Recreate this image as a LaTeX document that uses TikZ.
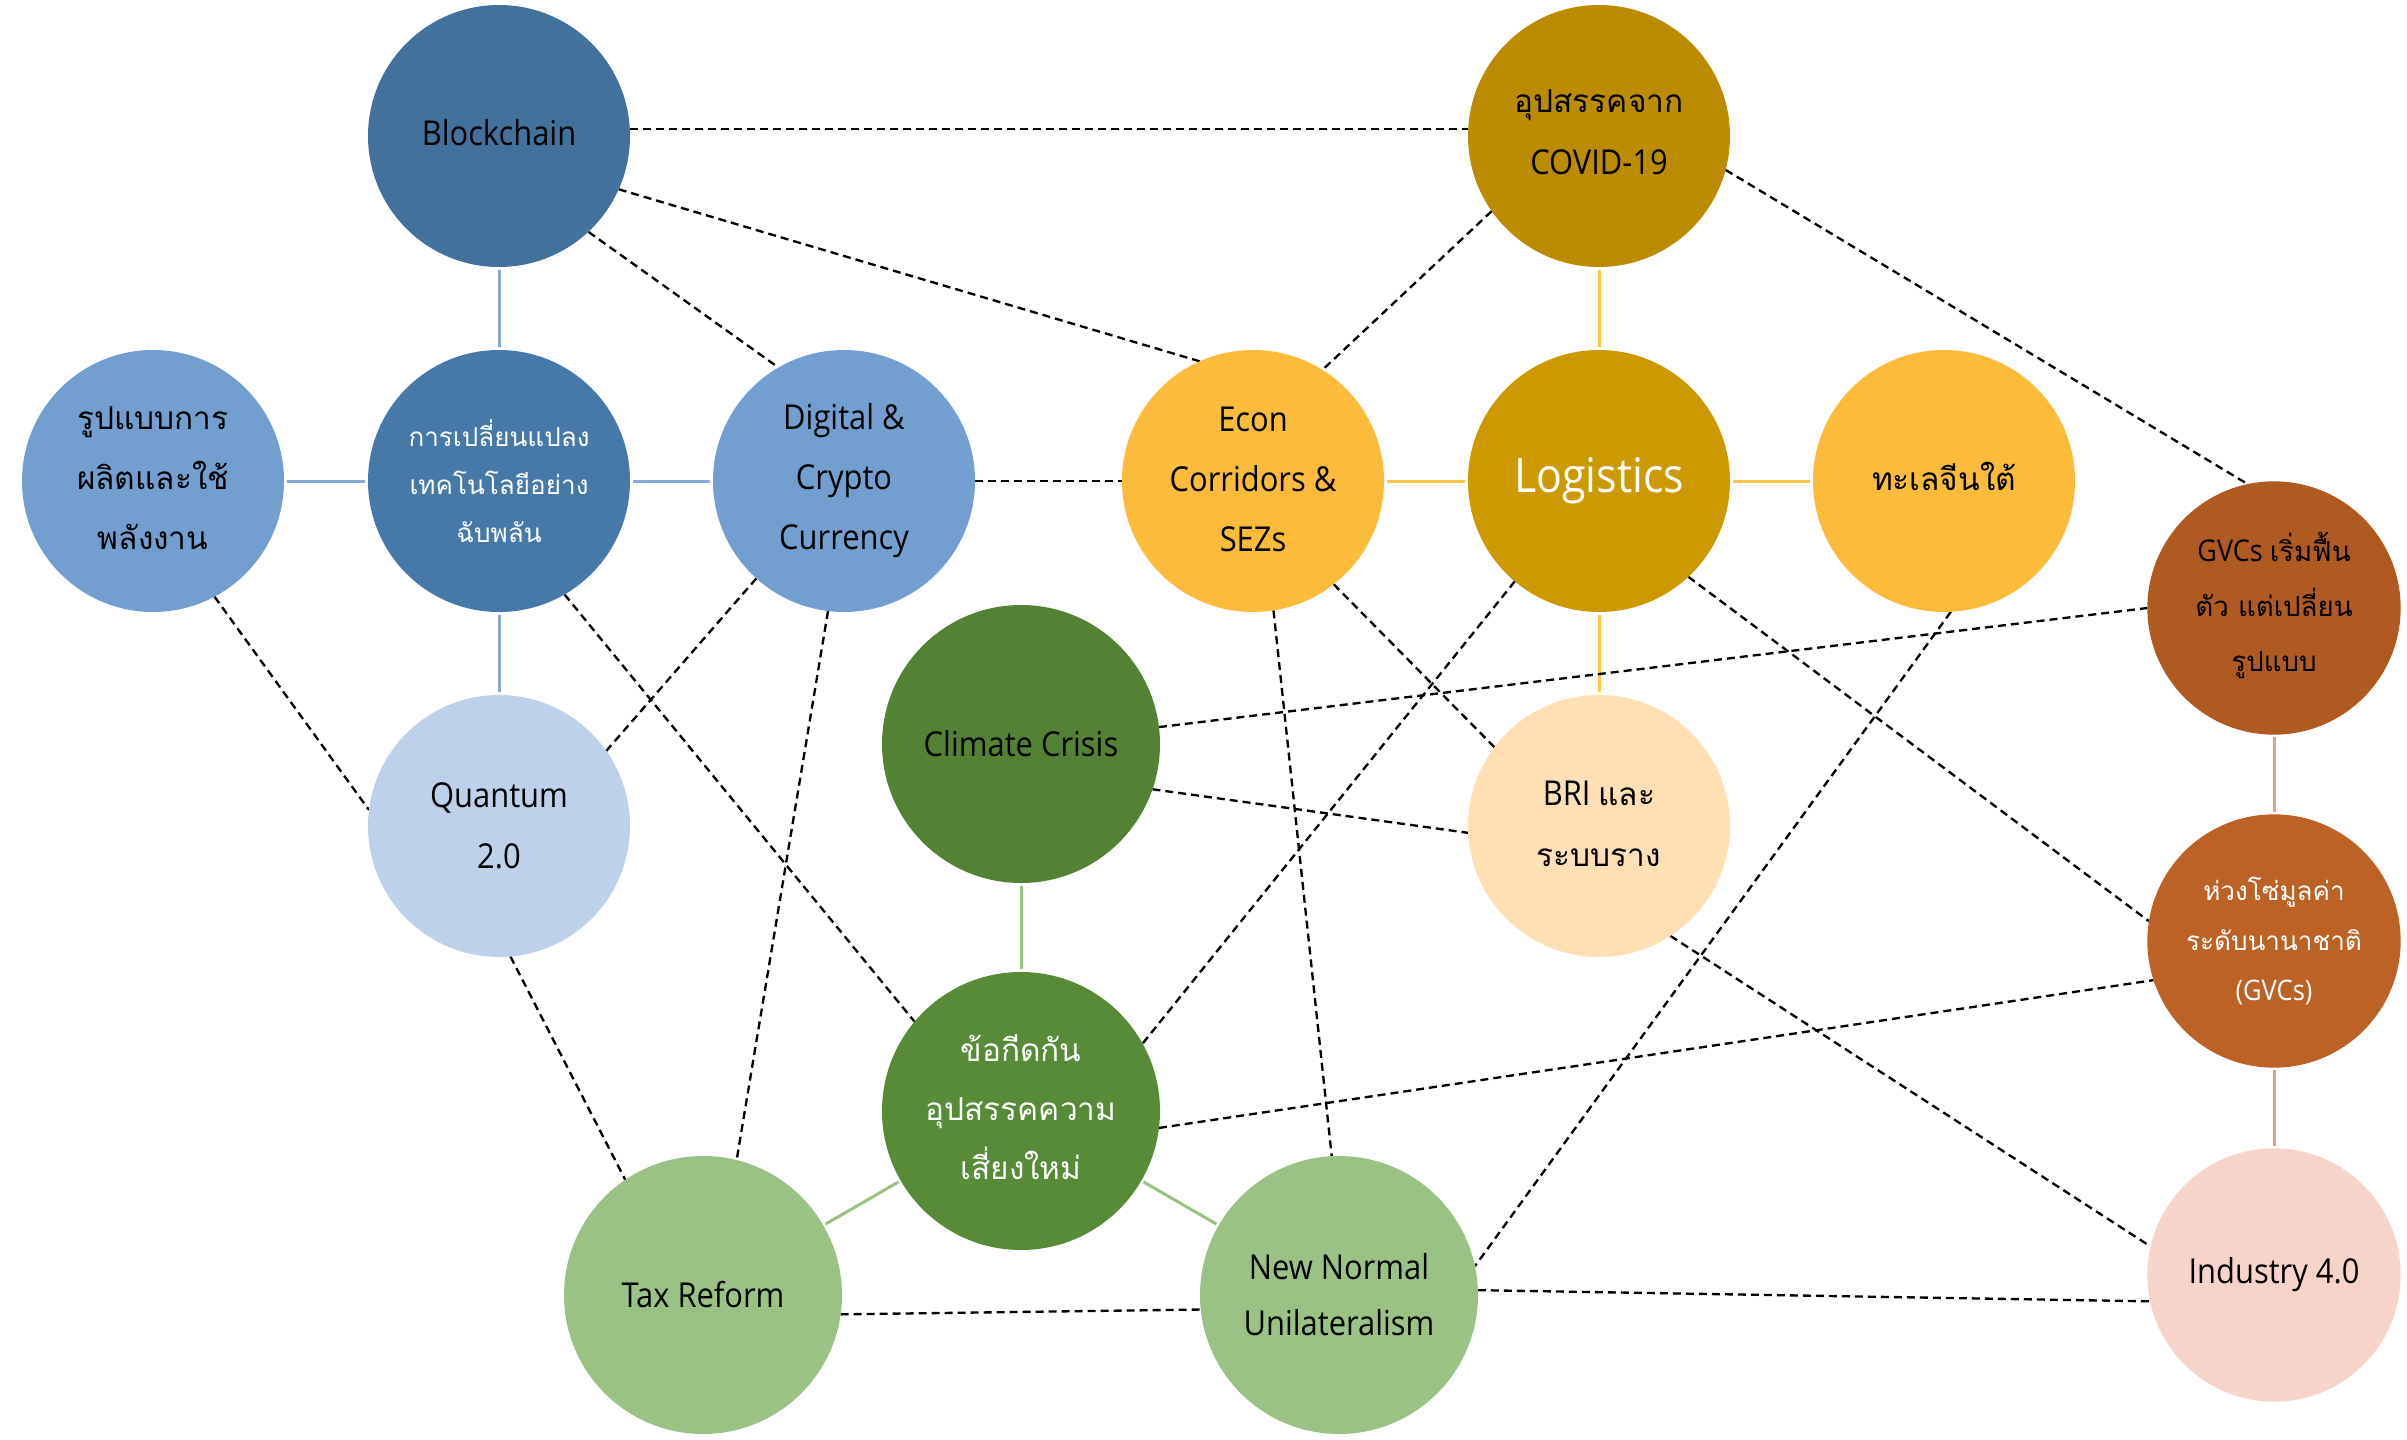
\documentclass[tikz,border=0pt]{standalone}
\usepackage{fontspec}
\setmainfont{Open Sans}[FakeStretch=0.9]
\newfontfamily\thaifont[Script=Thai,Scale=0.92]{Loma}
\usetikzlibrary{backgrounds}
\definecolor{cBlock}{HTML}{42719C}
\definecolor{cTech}{HTML}{4679A8}
\definecolor{cLblue}{HTML}{729FCF}
\definecolor{cQuan}{HTML}{BDD1EA}
\definecolor{cCovid}{HTML}{BC8C00}
\definecolor{cLogi}{HTML}{CC9A00}
\definecolor{cGold}{HTML}{FDBB3B}
\definecolor{cBri}{HTML}{FFDFB3}
\definecolor{cGvcA}{HTML}{AE5A21}
\definecolor{cGvcB}{HTML}{BC6226}
\definecolor{cInd}{HTML}{F6D4C9}
\definecolor{cClim}{HTML}{548235}
\definecolor{cBar}{HTML}{588B38}
\definecolor{cLgreen}{HTML}{9BC285}
\definecolor{lnBlue}{HTML}{84AAD8}
\definecolor{lnYellow}{HTML}{FFC74A}
\definecolor{lnSalmon}{HTML}{E9A07E}
\definecolor{lnGreen}{HTML}{99C180}
\begin{document}
\begin{tikzpicture}[x=0.3pt,y=-0.3pt,
  bub/.style={circle, draw=none, inner sep=0pt, outer sep=0pt},
  bubA/.style={bub, minimum size=78.6pt},
  bubB/.style={bub, minimum size=83.4pt},
  bubC/.style={bub, minimum size=76pt},
  lbl/.style={align=center, inner sep=0pt, text=black, font=\fontsize{10.3}{18.3}\selectfont},
  lblw/.style={lbl, text=white},
  dsh/.style={draw=black, line width=0.7pt, dash pattern=on 2.4pt off 1.5pt},
  sln/.style={line width=0.9pt, shorten <=0.8pt, shorten >=0.8pt},
]
\useasboundingbox (0,0) rectangle (2407,1440);
% circles
\node[bubA, fill=cBlock] (bc) at (499,136) {};
\node[bubA, fill=cCovid] (covid) at (1599,136) {};
\node[bubA, fill=cLblue] (prod) at (153,481) {};
\node[bubA, fill=cTech] (tech) at (499,481) {};
\node[bubA, fill=cLblue] (dig) at (844,481) {};
\node[bubA, fill=cGold] (econ) at (1253,481) {};
\node[bubA, fill=cLogi] (logi) at (1599,481) {};
\node[bubA, fill=cGold] (scs) at (1944,481) {};
\node[bubC, fill=cGvcA] (gvc1) at (2274,608) {};
\node[bubB, fill=cClim] (clim) at (1021,744) {};
\node[bubA, fill=cQuan] (quan) at (499,826) {};
\node[bubA, fill=cBri] (bri) at (1599,826) {};
\node[bubC, fill=cGvcB] (gvc2) at (2274,941) {};
\node[bubB, fill=cBar] (bar) at (1021,1111) {};
\node[bubB, fill=cLgreen] (tax) at (703,1295) {};
\node[bubB, fill=cLgreen] (nn) at (1339,1295) {};
\node[bubC, fill=cInd] (ind) at (2274,1275) {};
% labels
\node[lbl] (bc-t) at ([yshift=1pt]bc) {Blockchain};
\node[lbl, font=\fontsize{10.3}{18.6}\selectfont] (covid-t) at ([yshift=1pt]covid) {{\thaifont อุปสรรคจาก}\\COVID-19};
\node[lbl, font=\fontsize{10.3}{18}\selectfont] (prod-t) at ([yshift=1pt]prod) {{\thaifont รูปแบบการ}\\{\thaifont ผลิตและใช้}\\{\thaifont พลังงาน}};
\node[lblw, font=\fontsize{8.5}{14.4}\selectfont] (tech-t) at (tech) {{\thaifont การเปลี่ยนแปลง}\\{\thaifont เทคโนโลยีอย่าง}\\{\thaifont ฉับพลัน}};
\node[lbl, font=\fontsize{10.3}{18}\selectfont] (dig-t) at (dig) {Digital \&\\Crypto\\Currency};
\node[lbl, font=\fontsize{10.3}{18}\selectfont] (econ-t) at ([yshift=0.5pt]econ) {Econ\\Corridors \&\\SEZs};
\node[lblw, font=\fontsize{14.3}{16}\selectfont] (logi-t) at (logi) {Logistics};
\node[lbl] (scs-t) at ([yshift=1.5pt]scs) {{\thaifont ทะเลจีนใต้}};
\node[lbl, font=\fontsize{9}{16.5}\selectfont] (gvc1-t) at ([yshift=0.8pt]gvc1) {GVCs {\thaifont เริ่มฟื้น}\\{\thaifont ตัว แต่เปลี่ยน}\\{\thaifont รูปแบบ}};
\node[lbl] (clim-t) at (clim) {Climate Crisis};
\node[lbl] (quan-t) at (quan) {Quantum\\2.0};
\node[lbl] (bri-t) at ([yshift=0.7pt]bri) {BRI {\thaifont และ}\\{\thaifont ระบบราง}};
\node[lblw, font=\fontsize{8.5}{15}\selectfont] (gvc2-t) at (gvc2) {{\thaifont ห่วงโซ่มูลค่า}\\{\thaifont ระดับนานาชาติ}\\(GVCs)};
\node[lblw, font=\fontsize{10.3}{17.7}\selectfont] (bar-t) at ([yshift=1.2pt]bar) {{\thaifont ข้อกีดกัน}\\{\thaifont อุปสรรคความ}\\{\thaifont เสี่ยงใหม่}};
\node[lbl] (tax-t) at (tax) {Tax Reform};
\node[lbl, font=\fontsize{10.3}{16.8}\selectfont] (nn-t) at (nn) {New Normal\\Unilateralism};
\node[lbl] (ind-t) at (ind) {Industry 4.0};
\begin{pgfonlayer}{background}
% solid connectors
\draw[sln, lnBlue] (bc) -- (tech);
\draw[sln, lnBlue] (prod) -- (tech);
\draw[sln, lnBlue] (tech) -- (dig);
\draw[sln, lnBlue] (tech) -- (quan);
\draw[sln, lnYellow] (covid) -- (logi);
\draw[sln, lnYellow] (econ) -- (logi);
\draw[sln, lnYellow] (logi) -- (scs);
\draw[sln, lnYellow] (logi) -- (bri);
\draw[sln, lnSalmon] (gvc1) -- (gvc2);
\draw[sln, lnSalmon] (gvc2) -- (ind);
\draw[sln, lnGreen] (clim) -- (bar);
\draw[sln, lnGreen] (bar) -- (tax);
\draw[sln, lnGreen] (bar) -- (nn);
% dashed connectors
\draw[dsh] (bc.3) -- (covid.177);
\draw[dsh] (bc.-24) -- (econ.114);
\draw[dsh] (bc.-47) -- (dig.120);
\draw[dsh] (covid.215) -- (econ.58);
\draw[dsh] (covid.-15) -- (gvc1.102);
\draw[dsh] (dig.east) -- (econ.west);
\draw[dsh] (prod.-62) -- (quan.173);
\draw[dsh] (tech.-60) -- (bar.140);
\draw[dsh] (dig.228) -- (quan.35);
\draw[dsh] (dig.-97) -- (tax.76);
\draw[dsh] (quan.-85) -- (tax.124);
\draw[dsh] (tax.-8) -- (nn.186);
\draw[dsh] (econ.-81) -- (nn.93);
\draw[dsh] (econ.-52) -- (bri.143);
\draw[dsh] (logi.230) -- (bar.29);
\draw[dsh] (logi.-47) -- (gvc2.171);
\draw[dsh] (scs.-87) -- (nn.12);
\draw[dsh] (clim.7) -- (gvc1.180);
\draw[dsh] (clim.-19) -- (bri.183);
\draw[dsh] (bar.-7) -- (gvc2.198);
\draw[dsh] (bri.-57) -- (ind.167);
\draw[dsh] (nn.2) -- (ind.192);
\end{pgfonlayer}
\end{tikzpicture}
\end{document}
